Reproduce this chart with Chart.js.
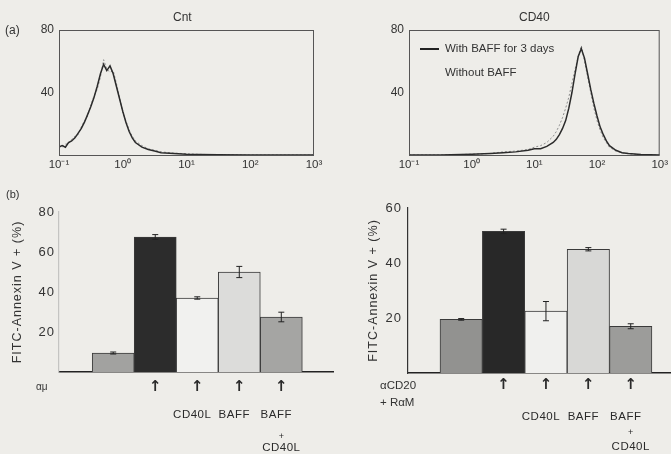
<!DOCTYPE html>
<html lang="en">
<head>
<meta charset="UTF-8">
<title>BAFF and CD40 - annexin V</title>
<script src="https://cdn.jsdelivr.net/npm/chart.js"></script>
<style>
    body {
        margin: 0;
        background: #eeede9;
        font-family: "Liberation Sans", Arial, sans-serif;
        color: #333;
    }
    #page {
        position: relative;
        width: 671px;
        height: 454px;
        overflow: hidden;
    }
    canvas { position: absolute; }
    .txt {
        position: absolute;
        white-space: nowrap;
        font-size: 11.5px;
        line-height: 14px;
    }
    .swatch {
        display: inline-block;
        width: 19px;
        height: 2px;
        background: #222;
        vertical-align: middle;
        margin-right: 6px;
    }
</style>
</head>
<body>
<div id="page">
    <canvas id="histCnt" width="335" height="180" style="left:0;top:0"></canvas>
    <canvas id="histCD40" width="331" height="180" style="left:340px;top:0"></canvas>
    <canvas id="barsMu" width="340" height="269" style="left:0;top:185px"></canvas>
    <canvas id="barsCD20" width="326" height="269" style="left:345px;top:185px"></canvas>

    <div class="txt" style="left:173px;top:10px;font-size:12px">Cnt</div>
    <div class="txt" style="left:519px;top:10px;font-size:12px">CD40</div>
    <div class="txt" style="left:5px;top:23px;font-size:12px">(a)</div>
    <div class="txt" style="left:6px;top:187px;font-size:11px">(b)</div>

    <div class="txt" style="left:420px;top:41px"><span class="swatch"></span>With BAFF for 3 days</div>
    <div class="txt" style="left:445px;top:65px">Without BAFF</div>

    <div class="txt" style="left:36px;top:380px;font-size:10px">αμ</div>
    <div class="txt" style="left:380px;top:378px;font-size:11.5px">αCD20</div>
    <div class="txt" style="left:380px;top:395px;font-size:11.5px">+ RαM</div>
</div>

<script>
    // ---- histogram data (fluorescence channel, % of max) ----
    const decadeValues = [0.1, 1, 10, 100, 1000];
    const decadeLabels = ['10⁻¹', '10⁰', '10¹', '10²', '10³'];
    const histYTicks = [40, 80];

    const cntChannels = [0.1, 0.112, 0.126, 0.141, 0.158, 0.178, 0.2, 0.224, 0.251, 0.282, 0.316, 0.355,
        0.398, 0.447, 0.501, 0.562, 0.631, 0.708, 0.794, 0.891, 1, 1.12, 1.26, 1.41, 1.58, 2.0,
        2.51, 3.16, 3.98, 6.31, 10, 15.8, 31.6, 100, 316, 1000];
    const cntWithBaff = [5, 6, 5, 8, 9, 11, 14, 17, 21, 26, 31, 37, 44, 52, 58, 54, 57, 52, 44, 36, 28,
        21, 15, 11, 8, 5, 3.5, 2.5, 1.5, 1, 0.5, 0.3, 0.2, 0, 0, 0];
    const cntWithoutBaff = [6, 5, 7, 7, 10, 12, 13, 18, 22, 25, 32, 38, 42, 50, 61, 55, 53, 54, 46, 37, 27,
        22, 16, 12, 9, 6, 4, 3, 2, 1.2, 0.8, 0.4, 0.2, 0, 0, 0];

    const cd40Channels = [0.1, 0.316, 1, 2.0, 3.16, 5.01, 7.94, 10, 12.6, 15.8, 20, 22.4, 25.1, 28.2, 31.6,
        35.5, 39.8, 44.7, 50.1, 56.2, 63.1, 70.8, 79.4, 89.1, 100, 112, 126, 141, 158, 200, 251, 316, 501, 1000];
    const cd40WithBaff = [0, 0, 0.5, 1, 1.5, 2, 3, 4, 4, 5.5, 8, 10, 13, 17, 22, 30, 40, 52, 63, 68, 62, 52,
        42, 33, 25, 18, 13, 9, 6, 3, 1.5, 1, 0.3, 0];
    const cd40WithoutBaff = [0, 0, 0.5, 1, 2, 2.5, 3.5, 5, 6, 8, 12, 15, 19, 24, 30, 37, 46, 55, 63, 70, 60,
        50, 40, 30, 22, 16, 11, 8, 5, 2.5, 1.5, 0.8, 0.2, 0];

    // ---- annexin V bars ----
    const barSlots = [1, 2, 3, 4, 5];
    const arrowMarks = ['', '↑', '↑', '↑', '↑'];
    const agentLabels = ['', '', 'CD40L', 'BAFF', 'BAFF'];
    const plusLabels = ['', '', '', '', '+'];
    const comboLabels = ['', '', '', '', 'CD40L'];

    const muValues = [9.5, 67.5, 37, 50, 27.5];
    const muErrors = [0.5, 1.2, 0.6, 2.8, 2.4];
    const muYTicks = [20, 40, 60, 80];

    const cd20Values = [19.5, 51.5, 22.5, 45, 17];
    const cd20Errors = [0.3, 0.8, 3.5, 0.6, 0.9];
    const cd20YTicks = [20, 40, 60];

    Chart.defaults.font.family = "'Liberation Sans', Arial, sans-serif";
    Chart.defaults.color = '#333';
    Chart.defaults.animation = false;
    Chart.defaults.plugins.legend.display = false;
    Chart.defaults.plugins.tooltip.enabled = false;

    // frame round the histogram plot
    const boxPlugin = {
        id: 'box',
        afterDraw(chart) {
            const a = chart.chartArea, ctx = chart.ctx;
            ctx.save();
            ctx.strokeStyle = '#555';
            ctx.lineWidth = 1;
            ctx.strokeRect(a.left + 0.5, a.top + 0.5, a.right - a.left - 1, a.bottom - a.top);
            ctx.restore();
        }
    };

    // the scanned lettering is loosely spaced
    const wideText = {
        id: 'wideText',
        beforeDraw(chart) { chart.ctx.letterSpacing = '1px'; }
    };

    const errorBars = {
        id: 'errorBars',
        afterDatasetsDraw(chart, args, opts) {
            const ctx = chart.ctx, y = chart.scales.y;
            const meta = chart.getDatasetMeta(0);
            const vals = chart.data.datasets[0].data;
            ctx.save();
            ctx.strokeStyle = '#222';
            ctx.lineWidth = 1;
            opts.errors.forEach((e, i) => {
                const x = meta.data[i].x;
                const top = y.getPixelForValue(vals[i] + e);
                const bot = y.getPixelForValue(vals[i] - e);
                ctx.beginPath();
                ctx.moveTo(x, top); ctx.lineTo(x, bot);
                ctx.moveTo(x - 3, top); ctx.lineTo(x + 3, top);
                ctx.moveTo(x - 3, bot); ctx.lineTo(x + 3, bot);
                ctx.stroke();
            });
            ctx.restore();
        }
    };

    // arrows and treatment names under each bar
    const treatLabels = {
        id: 'treatLabels',
        afterDraw(chart, args, opts) {
            const ctx = chart.ctx, xs = chart.scales.x;
            const base = chart.chartArea.bottom;
            ctx.save();
            ctx.textAlign = 'center';
            ctx.textBaseline = 'middle';
            ctx.fillStyle = '#2a2a2a';
            opts.rows.forEach(row => {
                ctx.font = row.font;
                ctx.letterSpacing = row.spacing || '0px';
                row.texts.forEach((t, i) => {
                    if (t) ctx.fillText(t, xs.getPixelForValue(barSlots[i]) + (row.dx || 0), base + row.dy);
                });
            });
            ctx.restore();
        }
    };

    function makeHist(id, channels, dark, light, padLeft, padRight) {
        new Chart(document.getElementById(id), {
            type: 'line',
            data: {
                datasets: [{
                    data: channels.map((c, i) => ({ x: c, y: dark[i] })),
                    borderColor: '#2b2b2b',
                    borderWidth: 1.5,
                    pointRadius: 0
                }, {
                    data: channels.map((c, i) => ({ x: c, y: light[i] })),
                    borderColor: '#8c8c8c',
                    borderWidth: 1,
                    borderDash: [2, 2],
                    pointRadius: 0
                }]
            },
            options: {
                responsive: false,
                layout: { autoPadding: false, padding: { left: padLeft, right: padRight, top: 30, bottom: 5 } },
                scales: {
                    x: {
                        type: 'logarithmic',
                        min: 0.1,
                        max: 1000,
                        grid: { display: false, drawTicks: false },
                        border: { display: false },
                        ticks: {
                            font: { size: 11.5 },
                            padding: 3,
                            maxRotation: 0,
                            autoSkip: false,
                            callback: (v, i) => decadeLabels[i]
                        },
                        afterBuildTicks: s => { s.ticks = decadeValues.map(v => ({ value: v })); },
                        afterFit: s => { s.height = 20; }
                    },
                    y: {
                        min: 0,
                        max: 80,
                        grid: { display: false, drawTicks: false },
                        border: { display: false },
                        ticks: { font: { size: 12 }, padding: 5 },
                        afterBuildTicks: s => { s.ticks = histYTicks.map(v => ({ value: v })); },
                        afterFit: s => { s.width = 30; }
                    }
                }
            },
            plugins: [boxPlugin]
        });
    }

    function makeBars(id, values, errors, colors, yMax, yTicks, xMin, xMax, geo) {
        new Chart(document.getElementById(id), {
            type: 'bar',
            data: {
                labels: barSlots,
                datasets: [{
                    data: values,
                    backgroundColor: colors,
                    borderColor: '#3a3a3a',
                    borderWidth: 1,
                    borderSkipped: 'bottom',
                    barPercentage: 1,
                    categoryPercentage: 1
                }]
            },
            options: {
                responsive: false,
                layout: { autoPadding: false, padding: geo.padding },
                scales: {
                    x: {
                        type: 'linear',
                        offset: false,
                        min: xMin,
                        max: xMax,
                        grid: { display: false, drawTicks: false },
                        border: { display: true, color: '#222', width: 1.6 },
                        ticks: { display: false },
                        afterBuildTicks: s => { s.ticks = barSlots.map(v => ({ value: v })); },
                        afterFit: s => { s.height = 0; }
                    },
                    y: {
                        min: 0,
                        max: yMax,
                        grid: { display: false, drawTicks: false },
                        border: { display: true, color: geo.yAxisColor, width: 1.2 },
                        ticks: { font: { size: 13 }, padding: geo.tickPad },
                        afterBuildTicks: s => { s.ticks = yTicks.map(v => ({ value: v })); },
                        title: {
                            display: true,
                            text: 'FITC-Annexin V + (%)',
                            font: { size: 12.5 },
                            padding: 0
                        },
                        afterFit: s => { s.width = geo.yWidth; }
                    }
                },
                plugins: {
                    errorBars: { errors: errors },
                    treatLabels: {
                        rows: [
                            { texts: arrowMarks, dy: geo.rowDy[0], font: 'bold 15px "DejaVu Sans"' },
                            { texts: agentLabels, dy: geo.rowDy[1], dx: -5, spacing: '0.5px',
                              font: '11.5px "Liberation Sans", Arial' },
                            { texts: plusLabels, dy: geo.rowDy[2], font: '9px "Liberation Sans", Arial' },
                            { texts: comboLabels, dy: geo.rowDy[3], spacing: '0.5px',
                              font: '11.5px "Liberation Sans", Arial' }
                        ]
                    }
                }
            },
            plugins: [wideText, errorBars, treatLabels]
        });
    }

    makeHist('histCnt', cntChannels, cntWithBaff, cntWithoutBaff, 29, 21);
    makeHist('histCD40', cd40Channels, cd40WithBaff, cd40WithoutBaff, 39, 8);

    makeBars('barsMu', muValues, muErrors,
        ['#a2a2a0', '#2c2c2c', '#f1f1ef', '#dcdcda', '#a5a5a3'],
        80, muYTicks, -0.29, 6.23,
        { padding: { left: 10, right: 7, top: 27, bottom: 82 }, yWidth: 49, tickPad: 4,
          yAxisColor: '#c4c4c2', rowDy: [15, 43, 65, 76] });

    makeBars('barsCD20', cd20Values, cd20Errors,
        ['#929290', '#282828', '#f0f0ee', '#d8d8d6', '#9c9c9a'],
        60, cd20YTicks, -0.255, 5.95,
        { padding: { left: 21, right: 0, top: 23, bottom: 81 }, yWidth: 42, tickPad: 6,
          yAxisColor: '#333', rowDy: [12, 44, 60, 74] });
</script>
</body>
</html>
